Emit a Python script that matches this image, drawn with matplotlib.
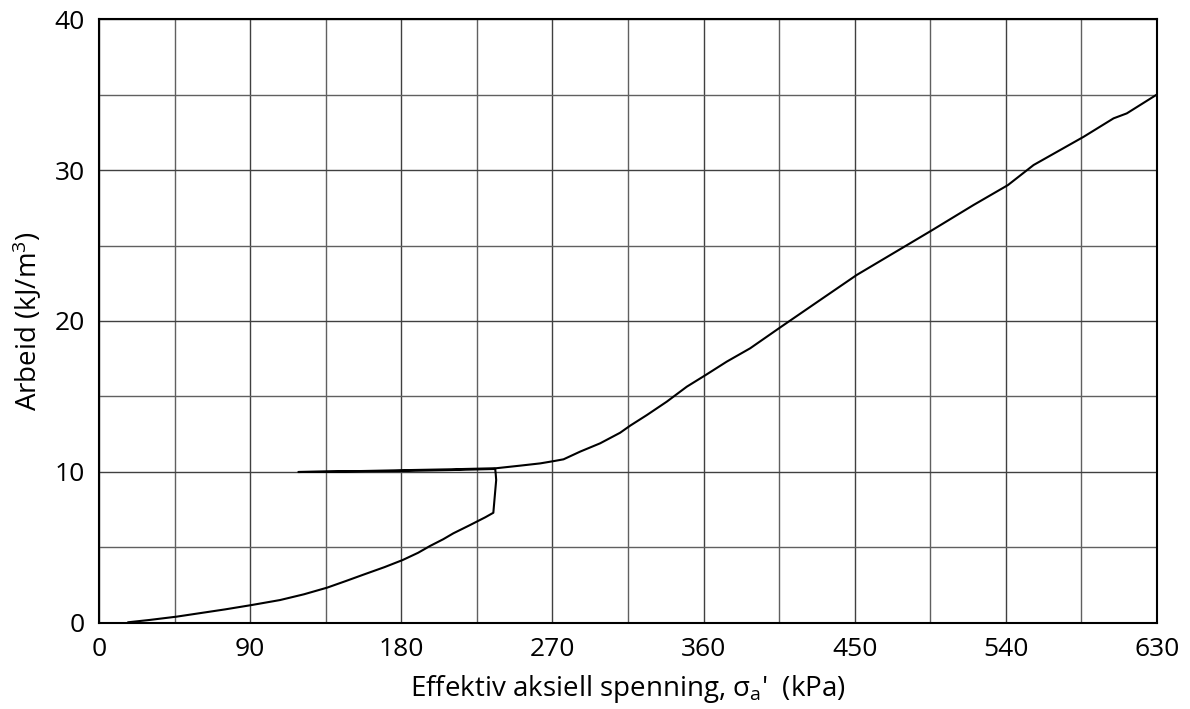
import matplotlib
matplotlib.use("Agg")
import matplotlib.pyplot as plt
import numpy as np

# === Data: belastning, kryp, avlasting og relasting ===
spenning = [17.5, 30, 46.2, 60, 75, 90.9, 107.8, 122, 135.8, 147, 157.4, 170, 180.8, 190, 197.1, 205, 211, 221, 226.1, 230, 234.8,
            235.5, 236.5, 236.2, 235.9,
            210, 181.2, 150, 118.7,
            150, 181.2, 210, 236.5,
            250.7, 262.7, 271.2, 276.6, 286.5, 298.4, 310.3, 316.3, 326.2, 338.1, 350, 361.2,
            373.8, 387.7, 406.2, 429.4, 451.2, 483, 496.3, 520.7, 541.2, 556.5, 586.3, 604.1,
            612, 629.5]
arbeid = [0.05, 0.2, 0.42, 0.65, 0.9, 1.19, 1.52, 1.9, 2.34, 2.78, 3.2, 3.7, 4.17, 4.65, 5.1, 5.55, 5.94, 6.49, 6.78, 7.0, 7.3,
          8.2, 9.47, 9.9, 10.2,
          10.13, 10.07, 10.03, 10.0,
          10.05, 10.12, 10.18, 10.25,
          10.42, 10.57, 10.73, 10.84, 11.35, 11.9, 12.6, 13.07, 13.77, 14.66, 15.65, 16.42,
          17.31, 18.19, 19.62, 21.39, 23.05, 25.15, 26.03, 27.68, 29.0, 30.33, 32.2, 33.42,
          33.75, 34.97]

plt.rcParams['font.family'] = ['Open Sans', 'DejaVu Sans']

fig = plt.figure(figsize=(11.9, 7.09), dpi=100)
ax = fig.add_axes([0.0832, 0.1213, 0.8891, 0.8519])

ax.plot(spenning, arbeid, color="black", linewidth=1.5, zorder=3)

ax.set_xlim(0, 630)
ax.set_ylim(0, 40)
ax.set_xticks(np.arange(0, 631, 90))
ax.set_yticks(np.arange(0, 41, 10))
ax.set_xticks(np.arange(45, 630, 90), minor=True)
ax.set_yticks(np.arange(5, 40, 10), minor=True)
ax.grid(which="major", color="#404040", linewidth=1.0)
ax.grid(which="minor", color="#606060", linewidth=1.0)
ax.set_axisbelow(True)
ax.tick_params(which="both", length=0, labelsize=19, pad=10)

for s in ax.spines.values():
    s.set_linewidth(1.5)
    s.set_color("black")

ax.set_xlabel(r"Effektiv aksiell spenning, $\mathregular{\sigma_a}$'  (kPa)", fontsize=20, labelpad=8)
ax.set_ylabel(r"Arbeid (kJ/m$\mathregular{^3}$)", fontsize=20, labelpad=8)

fig.savefig("out.png", dpi=100)
